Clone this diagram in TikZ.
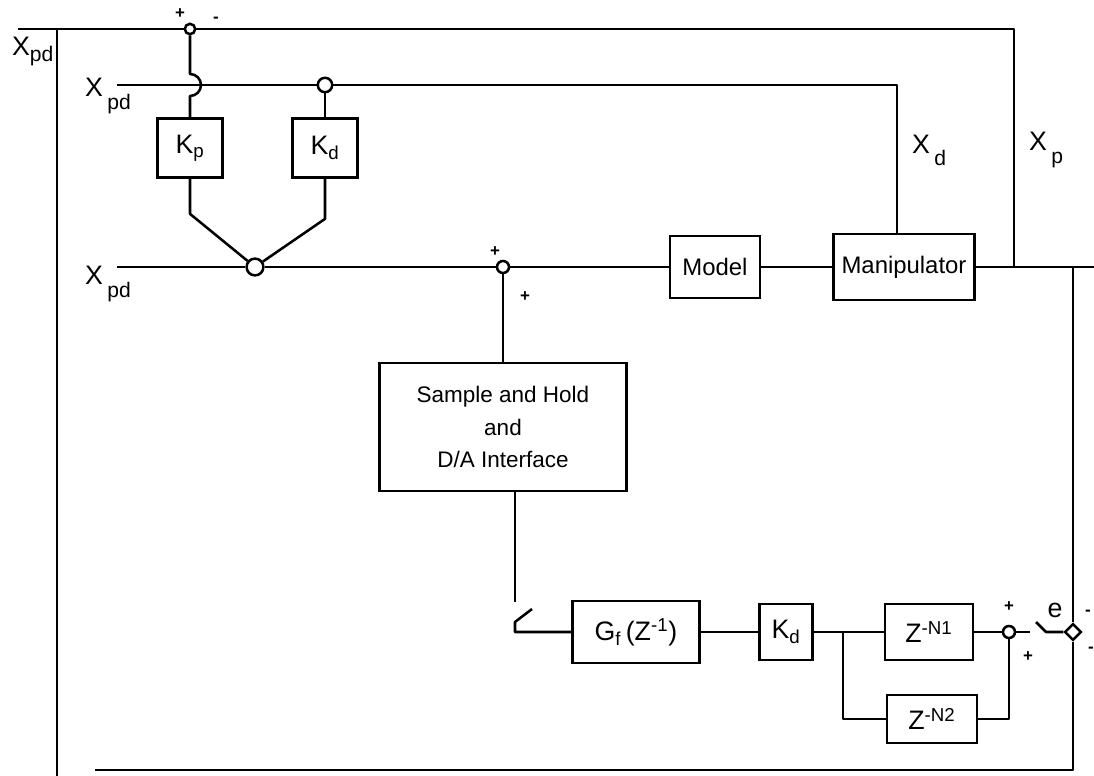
\documentclass[tikz,border=0pt]{standalone}
\usepackage{fontspec}
\setsansfont{Liberation Sans}
\usetikzlibrary{shapes.geometric, positioning, calc}
\tikzset{
    font=\sffamily\fontsize{17}{20}\selectfont,
    % Lines
    wire/.style={line width=1.8pt, line join=round},
    % Shapes
    blk/.style={rectangle, draw, line width=1.8pt, inner sep=2pt, align=center, fill=white},
    sum/.style={circle, draw, line width=1.8pt, fill=white, inner sep=0pt, minimum size=0.3cm},
    pick/.style={diamond, draw, line width=1.8pt, fill=white, inner sep=0pt, minimum size=0.42cm},
    % Labels
    sgn/.style={font=\sffamily\bfseries\fontsize{12}{12}\selectfont, inner sep=1pt},
    lbl/.style={inner sep=1pt, font=\sffamily\fontsize{19}{20}\selectfont},
    big/.style={font=\sffamily\fontsize{19}{20}\selectfont}
}
\newcommand{\lowsub}[2][-0.45em]{\raisebox{#1}{\fontsize{15}{16}\selectfont #2}}

\begin{document}
\begin{tikzpicture}[x=0.025cm, y=-0.025cm]
\useasboundingbox (0,0) rectangle (1094,776);

% Junctions
\node[sum, minimum size=0.26cm] (jtop) at (190,29) {};
\node[sum, minimum size=0.36cm] (jd) at (325,85) {};
\node[sum, minimum size=0.42cm] (jpd) at (255,267) {};
\node[sum] (jsum) at (503,267) {};
\node[sum] (jz) at (1009,632) {};
\node[pick] (jerr) at (1073,632) {};

% Blocks
\node[blk, big, minimum width=1.63cm, minimum height=1.48cm] (kp) at (190,148) {K\textsubscript{p}};
\node[blk, big, minimum width=1.63cm, minimum height=1.48cm] (kd) at (325,148) {K\textsubscript{d}};
\node[blk, minimum width=2.25cm, minimum height=1.55cm] (model) at (715,267) {Model};
\node[blk, minimum width=3.53cm, minimum height=1.65cm] (man) at (904,267) {Manipulator};
\node[blk, minimum width=6.18cm, minimum height=3.2cm, font=\sffamily\fontsize{16}{23}\selectfont] (sh) at (503,427) {Sample and Hold\\and\\D/A Interface};
\node[blk, big, minimum width=3.18cm, minimum height=1.55cm] (gf) at (636,632) {G\textsubscript{f}\,(Z\textsuperscript{-1})};
\node[blk, big, minimum width=1.33cm, minimum height=1.4cm] (kd2) at (786,632) {K\textsubscript{d}};
\node[blk, big, minimum width=2.2cm, minimum height=1.4cm] (z1) at (929,632) {Z\textsuperscript{-N1}};
\node[blk, big, minimum width=2.25cm, minimum height=1.2cm] (z2) at (932,719) {Z\textsuperscript{-N2}};

% Top loop
\coordinate (ttl) at (18,29);
\coordinate (ttr) at (1014,29);
\coordinate (lv) at (57,29);
\coordinate (lvb) at (57,776);
\draw[wire] (ttl) -- (jtop) -- (ttr) -- (ttr |- man.east);
\draw[wire] (lv) -- (lvb);

% Second line
\coordinate (l2a) at (117,85);
\coordinate (l2b) at (897,85);
\draw[wire] (l2a) -- (jd) -- (l2b) -- (l2b |- man.north);
\draw[wire] (jtop) -- (190,74) arc[start angle=-90, end angle=90, radius=11] -- (kp);
\draw[wire] (jd) -- (kd);
\draw[wire] (kp.south) -- ++(0,35) -- (jpd);
\draw[wire] (kd.south) -- ++(0,40) -- (jpd);

% Main line
\coordinate (l3a) at (117,267);
\coordinate (out) at (1094,267);
\coordinate (rv) at (1073,267);
\coordinate (rb) at (1073,770);
\coordinate (lb) at (95,770);
\draw[wire] (l3a) -- (jpd) -- (jsum) -- (model) -- (man) -- (out);
\draw[wire] (rv) -- (jerr) -- (rb) -- (lb);

% Sample and hold, filter
\draw[wire] (jsum) -- (sh);
\coordinate (sa) at (515,602);
\coordinate (sb) at (515,622);
\coordinate (sc) at (532,609);
\draw[wire] (sh.south -| sa) -- (sa);
\draw[wire] (sc) -- (sb) -- (sb |- gf.west) -- (gf);
\draw[wire] (gf) -- (kd2) -- (z1) -- (jz);
\coordinate (br) at (843,632);
\draw[wire] (br) |- (z2);
\draw[wire] (z2) -| (jz);
\coordinate (ea) at (1030,632);
\coordinate (eb) at (1046,632);
\coordinate (ec) at (1036,622);
\draw[wire] (jz) -- (ea);
\draw[wire] (ec) -- (eb) -- (jerr);

% Labels
\node[lbl, anchor=base east] (xpd1) at (55,56) {X\lowsub[-0.2em]{pd}};
\node[lbl] (xpd2) at (108,96) {X\,\lowsub{pd}};
\node[lbl] (xpd3) at (108,284) {X\,\lowsub{pd}};
\node[lbl] (xd) at (929,150) {X\,\lowsub{d}};
\node[lbl] (xp) at (1046,150) {X\,\lowsub{p}};
\node[lbl] (err) at (1055,610) {e};

% Signs
\node[sgn] (s1) at (180,14) {+};
\node[sgn] (s2) at (216,20) {-};
\node[sgn] (s3) at (495,252) {+};
\node[sgn] (s4) at (525,297) {+};
\node[sgn] (s5) at (1009,607) {+};
\node[sgn] (s6) at (1028,657) {+};
\node[sgn] (s7) at (1088,613) {-};
\node[sgn] (s8) at (1091,650) {-};

\end{tikzpicture}
\end{document}
